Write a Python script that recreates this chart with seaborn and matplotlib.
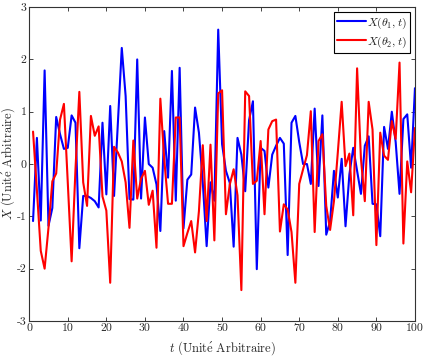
import numpy as np
import pandas as pd
import matplotlib
matplotlib.use("Agg")
import matplotlib.pyplot as plt
import seaborn as sns

# valeurs (t = 1..100)
t = list(range(1, 101))
x_theta1 = [
    -1.09, 0.50, -1.08, 1.79, -1.18, -0.84, 0.90, 0.57, 0.29, 0.31,
    0.93, 0.79, -1.61, -0.61, -0.61, -0.65, -0.71, -0.83, 0.79, -0.58,
    1.11, -0.61, 0.80, 2.22, 1.30, -0.67, -0.68, 2.00, -0.66, 0.89,
    0.00, -0.07, -0.39, -1.28, 0.63, -0.26, 1.78, -0.70, 1.84, -1.23,
    -0.30, -0.20, 1.08, 0.60, -0.35, -1.57, -0.35, -0.70, 2.57, 0.38,
    -0.13, -0.36, -1.58, 0.50, 0.18, -0.52, 0.84, 1.20, -2.01, 0.31,
    0.25, -0.45, 0.18, 0.35, 0.50, 0.39, -1.74, 0.79, 0.92, 0.42,
    0.00, 0.00, -0.38, 1.06, -0.42, 0.93, -1.35, -1.10, -0.13, -0.64,
    0.10, -1.19, -0.20, 0.31, -0.13, -0.57, 0.35, 0.53, -0.76, -0.77,
    -1.38, 0.71, 0.29, 1.00, 0.42, -0.57, 0.86, 0.95, -0.07, 1.45,
]
x_theta2 = [
    0.62, -0.50, -1.66, -2.00, -1.22, -0.33, -0.18, 0.85, 1.15, -0.35,
    -1.86, -0.10, 1.38, -0.35, -0.80, 0.92, 0.54, 0.72, -0.62, -0.89,
    -2.27, 0.33, 0.22, 0.05, -0.35, -1.22, 0.45, -0.66, -0.28, -0.13,
    -0.78, -0.51, -1.60, 1.25, 0.10, -0.76, -0.76, 0.89, 0.89, -1.57,
    -1.32, -1.09, -1.69, -0.90, 0.36, -1.09, 0.37, -1.46, 1.35, 1.41,
    -0.96, -0.39, -0.10, -0.60, -2.41, 1.39, 1.30, -0.38, -0.32, 0.44,
    -0.96, 0.66, 0.82, 0.85, -1.29, -0.77, -0.87, -1.30, -2.27, -0.38,
    -0.10, 0.17, 1.01, -1.30, 0.44, 0.57, -0.80, -1.26, -0.71, 0.22,
    1.19, -0.04, 0.20, -0.98, 1.83, 0.10, -0.71, 1.19, 0.66, -1.55,
    0.60, 0.16, 0.08, 0.82, 0.48, 1.94, -1.52, 0.05, -0.54, 0.69,
]
labels = [r"$X(\theta_1,t)$", r"$X(\theta_2,t)$"]
x_ticks = list(range(0, 101, 10))
y_ticks = list(range(-3, 4))

df = pd.DataFrame({
    "t": t + t,
    "X": x_theta1 + x_theta2,
    "serie": [labels[0]] * len(t) + [labels[1]] * len(t),
})

sns.set_style("ticks")
plt.rcParams["font.family"] = ["cmr10", "DejaVu Serif"]
plt.rcParams["mathtext.fontset"] = "cm"
plt.rcParams["axes.unicode_minus"] = False
plt.rcParams["axes.formatter.use_mathtext"] = True

fig = plt.figure(figsize=(4.23, 3.57), dpi=100)
ax = fig.add_axes([0.069, 0.101, 0.912, 0.879])
sns.lineplot(data=df, x="t", y="X", hue="serie",
             palette=["#0000ff", "#ff0000"], linewidth=1.5, ax=ax)

ax.set_xlim(0, 100)
ax.set_ylim(-3, 3)
ax.set_xticks(x_ticks)
ax.set_yticks(y_ticks)
ax.set_xticklabels([str(v) for v in x_ticks])
ax.set_yticklabels([str(v) for v in y_ticks])
ax.tick_params(direction="in", top=True, right=True, labelsize=8.5,
               length=3, width=0.6, pad=2)
for s in ax.spines.values():
    s.set_linewidth(0.8)
    s.set_color("#333333")
ax.set_xlabel(r"$t\ (\mathrm{Unit\acute{e}\ Arbitraire})$", fontsize=9, labelpad=4)
ax.set_ylabel(r"$X\ (\mathrm{Unit\acute{e}\ Arbitraire})$", fontsize=9, labelpad=0)
ax.legend(loc="upper right", fontsize=8.5, frameon=True, fancybox=False,
          edgecolor="black", framealpha=1, handlelength=2.4,
          handletextpad=0.1, borderpad=0.3, labelspacing=0.3,
          borderaxespad=0.4)
ax.get_legend().get_frame().set_linewidth(0.8)

fig.savefig("out.png", dpi=100)
